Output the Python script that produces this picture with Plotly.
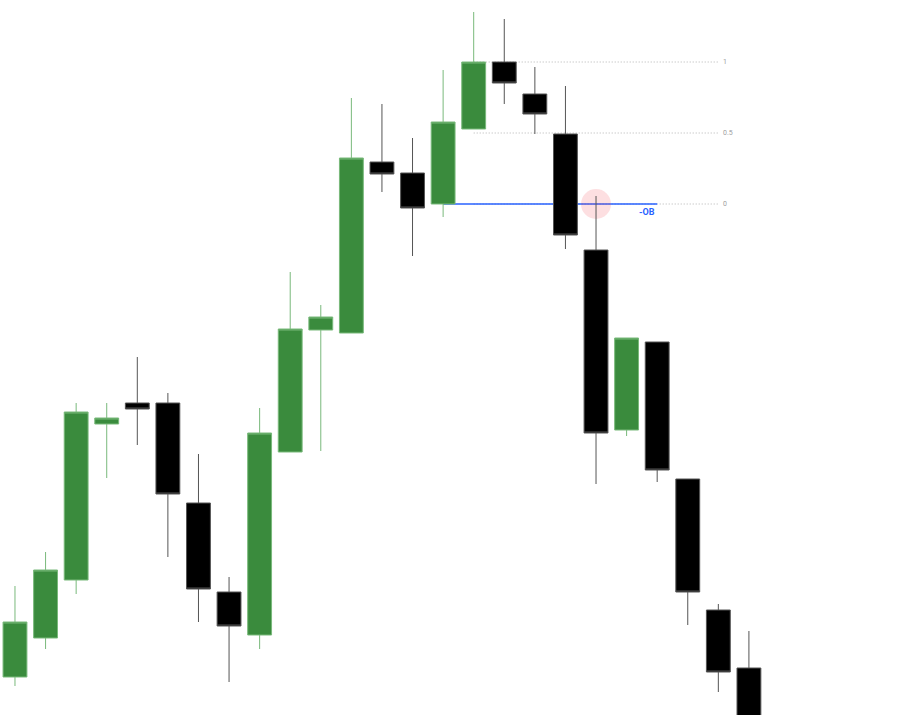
import plotly.graph_objects as go

# OHLC for each bar (index 0..24)
bar_idx = list(range(25))
opens = [4263.5, 4283, 4312, 4390, 4400.5, 4400.5, 4350.5, 4306, 4284.5, 4376,
         4437, 4435.5, 4521, 4515.5, 4500, 4537.5, 4571, 4555, 4535, 4477,
         4387, 4431, 4362.5, 4297, 4268]
highs = [4309, 4326, 4400.5, 4400.5, 4423.5, 4405.5, 4375, 4313.5, 4398, 4466,
         4449.5, 4553, 4550, 4533, 4567, 4596, 4592.5, 4568.5, 4559, 4504,
         4433, 4431, 4362.5, 4300, 4286.5]
lows = [4259, 4277.5, 4305, 4363, 4379.5, 4323.5, 4291, 4261, 4277.5, 4376,
        4376.5, 4435.5, 4506, 4474, 4493.5, 4537.5, 4550, 4535, 4477.5, 4360,
        4384, 4361, 4289.5, 4256, 4222]
closes = [4291, 4317, 4396, 4393, 4397.5, 4355, 4307.5, 4289, 4385.5, 4437.5,
          4443.5, 4523, 4515, 4498, 4541, 4571, 4560.5, 4545, 4484.5, 4385.5,
          4433, 4367, 4306, 4266, 4232]

# order block / fib settings
ob_bar = 14          # bar whose open marks the order block
ob_end = 21
fib_start = 15
fib_end = 23
fib_levels = [1, 0.5, 0]
touch_bar = 19

ob_price = opens[ob_bar]
swing_high = closes[ob_bar + 1]

fig = go.Figure()

fig.add_trace(go.Candlestick(
    x=bar_idx, open=opens, high=highs, low=lows, close=closes,
    increasing=dict(line=dict(color='#79b97b', width=1), fillcolor='#3a8b3d'),
    decreasing=dict(line=dict(color='#555555', width=1), fillcolor='#000000'),
    whiskerwidth=0,
    showlegend=False,
    hoverinfo='skip',
))

# fib retracement lines
for lvl in fib_levels:
    y = ob_price + (swing_high - ob_price) * lvl
    fig.add_shape(type='line', x0=fib_start, x1=fib_end, y0=y, y1=y,
                  line=dict(color='#b4b4b4', width=1, dash='1px,2px'), layer='below')
    fig.add_annotation(x=fib_end, y=y, text=str(lvl), showarrow=False,
                       xanchor='left', xshift=3, yanchor='middle',
                       font=dict(size=7, color='#a0a0a0', family='Roboto'))

# order block line
fig.add_shape(type='line', x0=ob_bar, x1=ob_end, y0=ob_price, y1=ob_price,
              line=dict(color='#2962ff', width=1.5), layer='below')
fig.add_annotation(x=ob_end, y=ob_price, text='<b>-OB</b>', showarrow=False,
                   xanchor='right', yanchor='top', yshift=-1,
                   font=dict(size=9, color='#2962ff', family='Roboto'))

# touch marker
fig.add_shape(type='circle', xsizemode='pixel', ysizemode='pixel',
              xanchor=touch_bar, yanchor=ob_price,
              x0=-15, x1=15, y0=-15, y1=15,
              fillcolor='rgba(242,54,69,0.16)', line=dict(width=0), layer='below')

fig.update_layout(
    width=911, height=715,
    margin=dict(l=0, r=0, t=0, b=0),
    paper_bgcolor='white',
    plot_bgcolor='white',
    boxgap=0.22,
    boxgroupgap=0,
    xaxis=dict(range=[-0.49, 29.3], visible=False, rangeslider=dict(visible=False)),
    yaxis=dict(range=[4244.5, 4602], visible=False),
)

# chart fills the whole window, no page margin
fig.write_html("out.html", config={'displayModeBar': False},
               post_script="document.body.style.margin='0';")
